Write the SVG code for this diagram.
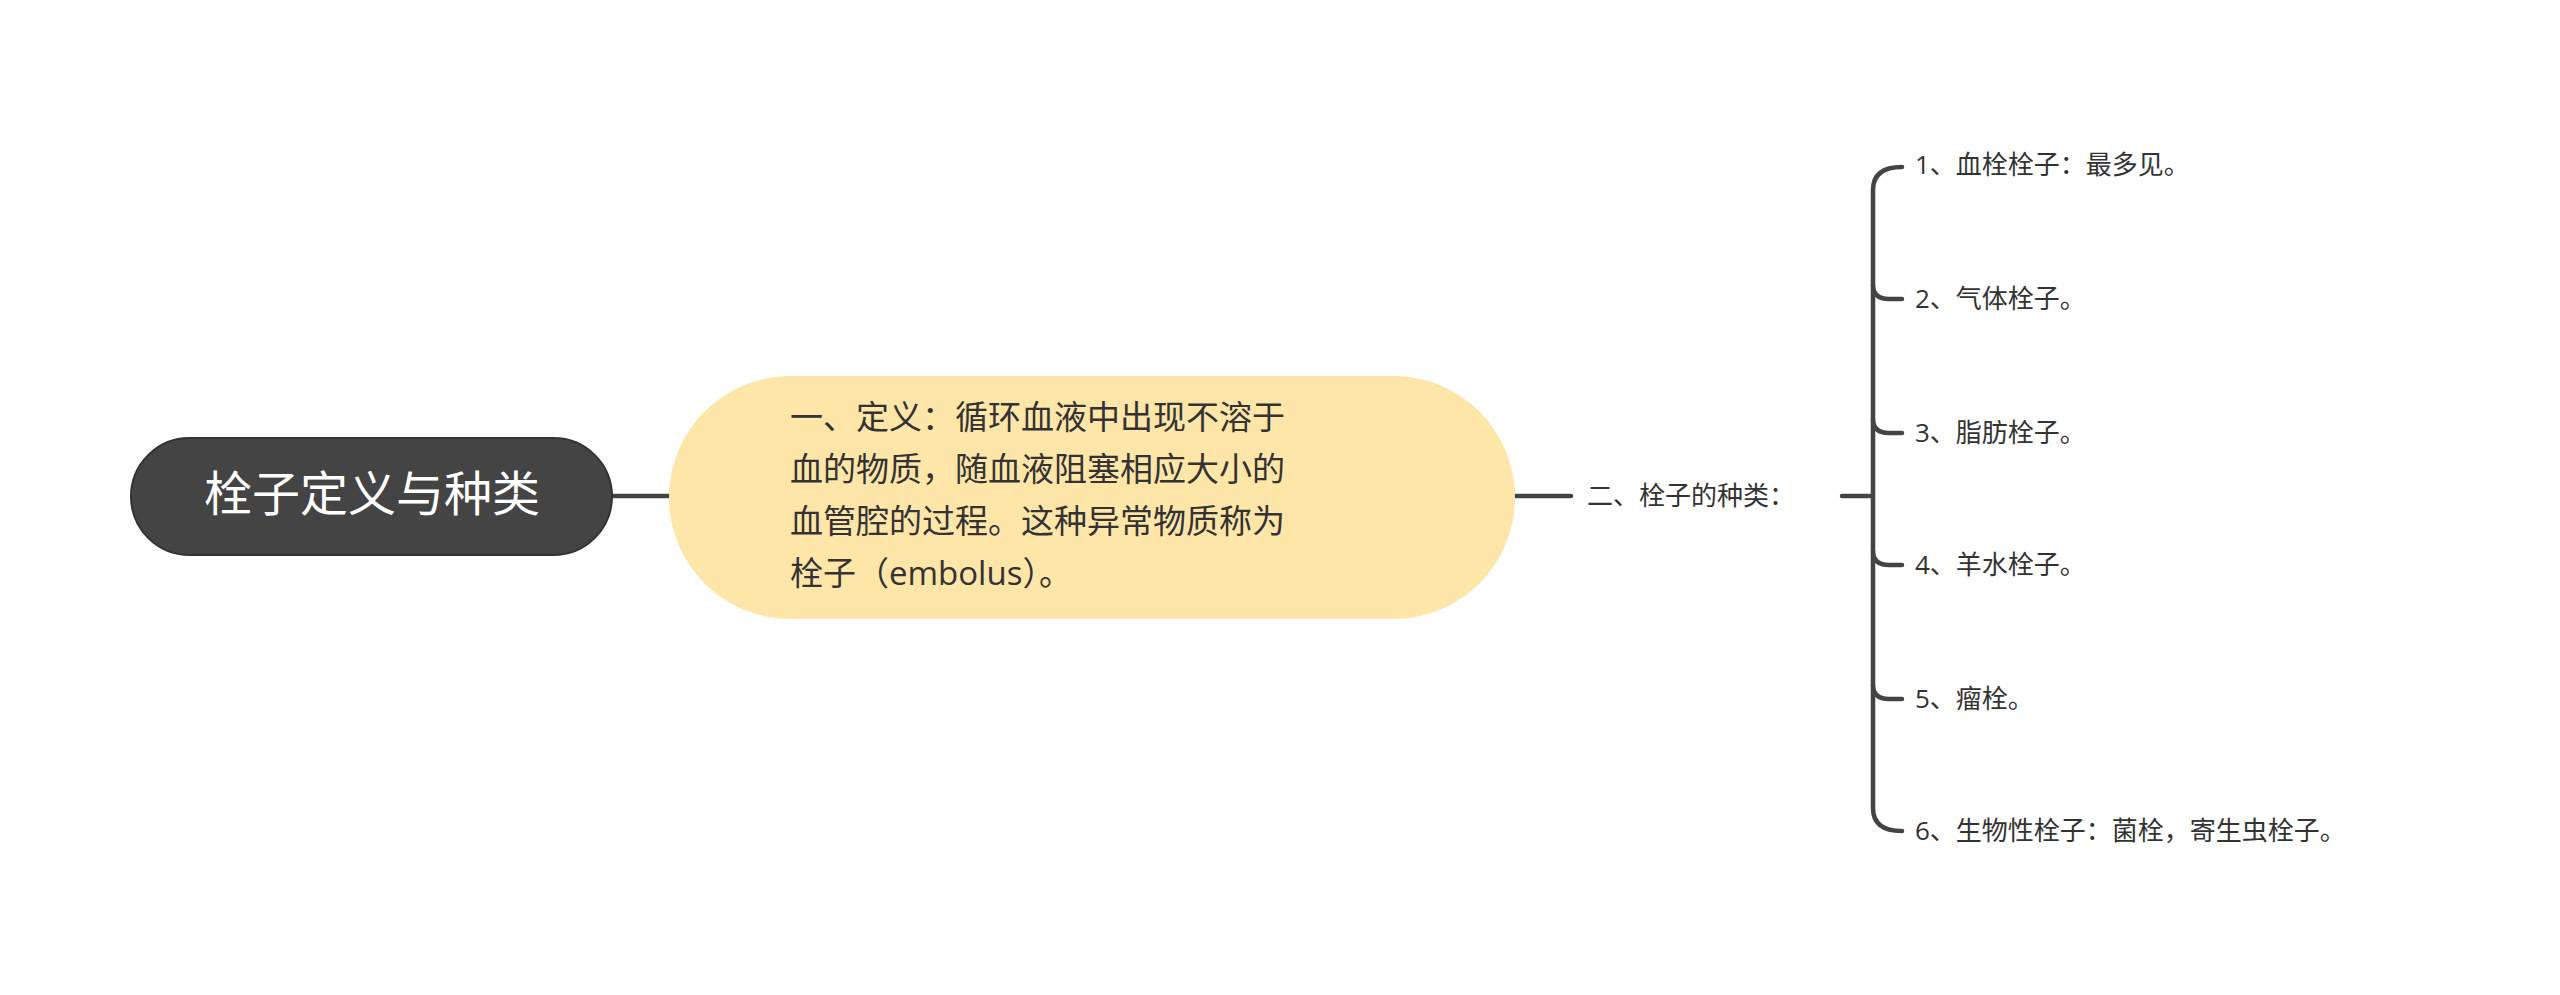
<svg xmlns="http://www.w3.org/2000/svg" width="2560" height="995" viewBox="0 0 2560 995">
<style>
.c{fill:none;stroke:#444;stroke-width:4.5;stroke-linecap:round}
text{font-family:"Open Sans","Noto Sans CJK SC",sans-serif;fill:#333}
.it{font-size:26px;dominant-baseline:middle}
</style>
<rect width="2560" height="995" fill="#fff"/>
<g id="connectors">
<path class="c" d="M612,496 L669,496"/>
<path class="c" d="M1515,496 L1571,496"/>
<path class="c" d="M1842,496 L1873,496"/>
<path class="c" d="M1902,167 Q1873,167 1873,190 L1873,808 Q1873,831 1902,831"/>
<path class="c" d="M1873,285 Q1873,299 1889,299 L1902,299"/>
<path class="c" d="M1873,419 Q1873,433 1889,433 L1902,433"/>
<path class="c" d="M1873,551 Q1873,565 1889,565 L1902,565"/>
<path class="c" d="M1873,685 Q1873,699 1889,699 L1902,699"/>
</g>
<g id="root">
<rect x="131" y="438" width="481" height="117" rx="58.5" fill="#444" stroke="#333" stroke-width="2"/>
<text x="372" y="498" font-size="48" text-anchor="middle" dominant-baseline="middle" style="fill:#fff">栓子定义与种类</text>
</g>
<g id="definition">
<rect x="669" y="376" width="846" height="243" rx="121.5" fill="#FEE6A8"/>
<text font-size="33" dominant-baseline="middle">
<tspan x="790" y="420">一、定义：循环血液中出现不溶于</tspan>
<tspan x="790" y="472">血的物质，随血液阻塞相应大小的</tspan>
<tspan x="790" y="524">血管腔的过程。这种异常物质称为</tspan>
<tspan x="790" y="576">栓子（embolus）。</tspan>
</text>
</g>
<g id="types"><text class="it" x="1587" y="498">二、栓子的种类：</text></g>
<g id="t1"><text class="it" x="1915" y="167">1、血栓栓子：最多见。</text></g>
<g id="t2"><text class="it" x="1915" y="301">2、气体栓子。</text></g>
<g id="t3"><text class="it" x="1915" y="435">3、脂肪栓子。</text></g>
<g id="t4"><text class="it" x="1915" y="567">4、羊水栓子。</text></g>
<g id="t5"><text class="it" x="1915" y="701">5、瘤栓。</text></g>
<g id="t6"><text class="it" x="1915" y="833">6、生物性栓子：菌栓，寄生虫栓子。</text></g>
</svg>
